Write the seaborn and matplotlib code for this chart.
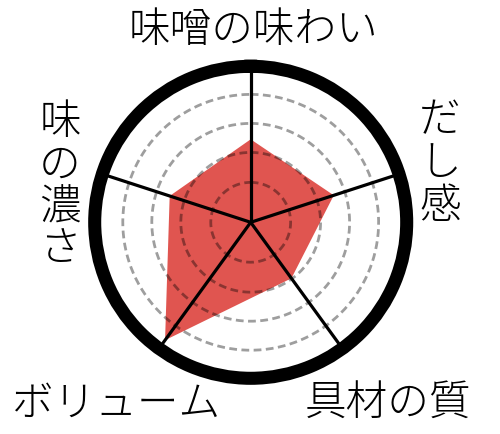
import numpy as np
import matplotlib
matplotlib.use("Agg")
import matplotlib.pyplot as plt
import seaborn as sns

# data
categories = ["味噌の味わい", "だし感", "具材の質", "ボリューム", "味の濃さ"]
values = [2.66, 2.80, 2.22, 4.67, 2.73]
grid_levels = [1.28, 2.24, 3.17, 4.10]
r_max = 5.0

sns.set_theme(style="white")
plt.rcParams['font.family'] = ['Noto Sans CJK JP', 'DejaVu Sans']

W, H = 500, 434
fig = plt.figure(figsize=(W / 100, H / 100), dpi=100)
cx, cy, R = 250.7, 222.3, 156.0
ax = fig.add_axes([(cx - R) / W, (H - cy - R) / H, 2 * R / W, 2 * R / H], projection='polar')
ax.set_theta_offset(np.pi / 2)
ax.set_theta_direction(-1)
ax.set_ylim(0, r_max)
ax.set_facecolor('white')
ax.grid(False)
ax.set_xticks([])
ax.set_yticks([])
ax.spines['polar'].set_linewidth(9.4)
ax.spines['polar'].set_color('black')

n = len(categories)
angles = np.linspace(0, 2 * np.pi, n, endpoint=False)
closed_a = np.append(angles, angles[0])
closed_v = np.append(values, values[0])

ax.fill(closed_a, closed_v, color='#E05550', alpha=1.0, lw=0, zorder=2)

tt = np.linspace(0, 2 * np.pi, 400)
for g in grid_levels:
    ax.plot(tt, np.full_like(tt, g), color='black', alpha=0.38, lw=2.0,
            linestyle=(0, (2.8, 1.6)), zorder=3)

for a in angles:
    ax.plot([a, a], [0, r_max], color='black', lw=2.3, zorder=4, solid_capstyle='butt')

# labels
label_pos = {
    "味噌の味わい": (253.5, 30, False),
    "だし感": (440, 163, True),
    "具材の質": (388, 404, False),
    "ボリューム": (116, 404, False),
    "味の濃さ": (60, 186, True),
}
for cat in categories:
    x, y, vert = label_pos[cat]
    txt = "\n".join(cat) if vert else cat
    fig.text(x / W, 1 - y / H, txt, ha='center', va='center', fontsize=30,
             fontweight='light', color='black', linespacing=0.98)

fig.savefig('out.png', dpi=100, facecolor='white')
